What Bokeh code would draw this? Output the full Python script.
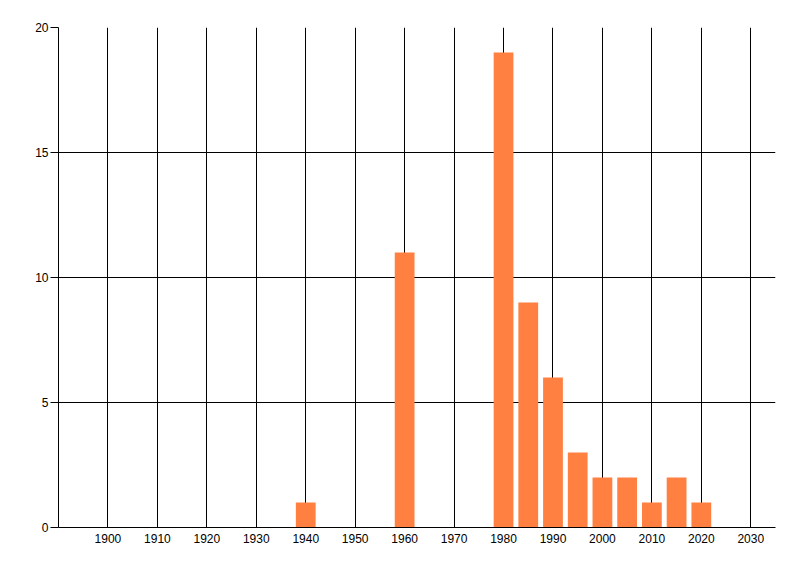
from bokeh.plotting import figure
from bokeh.models import FixedTicker, ColumnDataSource, Range1d
from bokeh.embed import file_html
from bokeh.resources import INLINE

years = [1940, 1960, 1980, 1985, 1990, 1995, 2000, 2005, 2010, 2015, 2020]
counts = [1, 11, 19, 9, 6, 3, 2, 2, 1, 2, 1]
x_ticks = [1900, 1910, 1920, 1930, 1940, 1950, 1960, 1970, 1980, 1990, 2000, 2010, 2020, 2030]
y_ticks = [0, 5, 10, 15, 20]

src = ColumnDataSource(data=dict(year=years, count=counts))

p = figure(width=784, height=560, output_backend="svg", toolbar_location=None,
           x_range=Range1d(1890, 2035), y_range=Range1d(0, 20),
           min_border_left=58, min_border_right=9, min_border_top=27, min_border_bottom=33)
p.outline_line_color = None
p.background_fill_color = "white"
p.border_fill_color = "white"

p.vbar(x="year", top="count", width=4, bottom=0, source=src,
       fill_color="#FF8040", line_color=None)

p.xaxis.ticker = FixedTicker(ticks=x_ticks)
p.yaxis.ticker = FixedTicker(ticks=y_ticks)
p.xgrid.ticker = FixedTicker(ticks=x_ticks)
p.ygrid.ticker = FixedTicker(ticks=y_ticks)

for g in (p.xgrid, p.ygrid):
    g.grid_line_color = "black"
    g.grid_line_alpha = 1.0
    g.grid_line_width = 1

for ax in (p.xaxis, p.yaxis):
    ax.axis_line_color = "black"
    ax.axis_line_width = 1
    ax.minor_tick_line_color = None
    ax.major_label_text_font = "Liberation Sans"
    ax.major_label_text_font_size = "12px"
    ax.major_label_text_color = "#000000"

p.xaxis.major_tick_out = 0
p.xaxis.major_tick_in = 0
p.xaxis.major_label_standoff = 6
p.yaxis.major_tick_out = 8
p.yaxis.major_tick_in = 0
p.yaxis.major_tick_line_color = "black"
p.yaxis.major_label_standoff = 2

open("out.html", "w").write(file_html(p, INLINE))
